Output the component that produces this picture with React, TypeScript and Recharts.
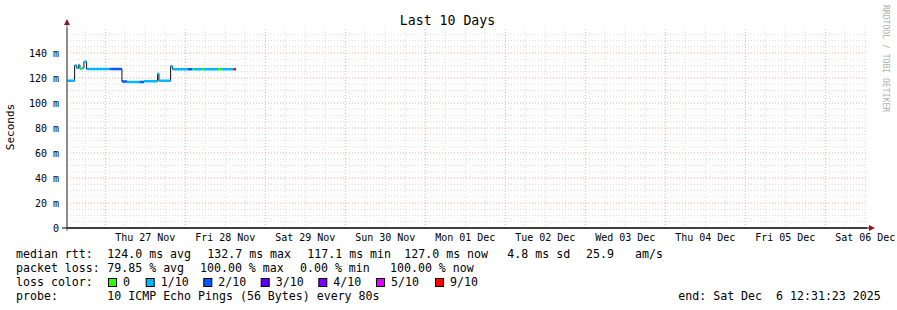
import { LineChart, Line, XAxis, YAxis, ReferenceLine } from "recharts";

// hours since Wed 26 Nov 00:00, window ends Sat 06 Dec 12:31
const windowStart = 12.52;
const windowEnd = 252.52;

// median rtt steps (ms), each lasts until the next start
const segStart = [12.5, 14.8, 15.4, 16.0, 16.4, 17.0, 17.6, 18.4, 25.4, 29.0, 30.5, 34.4, 35.6, 39.7, 40.1, 43.6, 44.2, 48.8, 50.0, 50.3, 50.8, 53.0, 53.6, 57.8, 59.0, 62.5];
const dataEnd = 63.2;
const medianRtt = [117.8, 130, 128, 130.5, 127.5, 128, 133, 127.2, 127.2, 117.2, 116.8, 116.8, 117.4, 123.5, 117.8, 129.5, 127, 127, 127, 127, 127, 127, 127, 127, 127, 127];
const lossTenths = [1, 1, 1, 1, 0, 1, 1, 1, 2, 2, 1, 2, 1, 1, 1, 1, 1, 2, 1, 0, 1, 0, 1, 0, 1, 9];

const lossClasses = [0, 1, 2, 3, 4, 5, 9];
const lossColors: Record<number, string> = {
  0: "#26ff00",
  1: "#00b8ff",
  2: "#0059ff",
  3: "#5e00ff",
  4: "#7e00ff",
  5: "#dd00ff",
  9: "#ff0000",
};
const lossLabels = ["0", "1/10", "2/10", "3/10", "4/10", "5/10", "9/10"];

const dayTicks = [36, 60, 84, 108, 132, 156, 180, 204, 228, 252];
const dayLabels = ["Thu 27 Nov", "Fri 28 Nov", "Sat 29 Nov", "Sun 30 Nov", "Mon 01 Dec", "Tue 02 Dec", "Wed 03 Dec", "Thu 04 Dec", "Fri 05 Dec", "Sat 06 Dec"];
const yTicks = [0, 20, 40, 60, 80, 100, 120, 140];

const statsRtt = [
  ["median rtt:", 16],
  ["124.0 ms avg", 107.3],
  ["132.7 ms max", 207.3],
  ["117.1 ms min", 307.3],
  ["127.0 ms now", 404.3],
  ["4.8 ms sd", 507.3],
  ["25.9", 586],
  ["am/s", 635],
] as const;
const statsLoss = [
  ["packet loss:", 16],
  ["79.85 % avg", 107.3],
  ["100.00 % max", 200],
  ["0.00 % min", 300],
  ["100.00 % now", 390],
] as const;
const swatchX = [108, 145.7, 203.3, 260.7, 318.3, 376, 435];

// each step gets its own coloured piece; the thin dark line joins them
const rows: Record<string, number>[] = [];
segStart.forEach((s, i) => {
  const e = i + 1 < segStart.length ? segStart[i + 1] : dataEnd;
  const v = medianRtt[i];
  const k = "l" + lossTenths[i];
  rows.push({ h: s, med: v, [k]: v });
  rows.push({ h: e, med: v, [k]: v });
  rows.push({ h: e, med: v });
});

const minorX: number[] = [];
for (let h = 18; h < windowEnd; h += 6) minorX.push(h);
const minorY: number[] = [];
for (let v = 5; v < 160; v += 5) minorY.push(v);

const mono = "DejaVu Sans Mono";

export default function App() {
  return (
    <div style={{ position: "relative", width: 897, height: 310, background: "#fff" }}>
      <style>{"body{margin:0}"}</style>
      <LineChart width={897} height={310} data={rows} margin={{ top: 28, right: 30, left: 0, bottom: 0 }}>
        {minorY.map((v) => (
          <ReferenceLine
            key={"y" + v}
            y={v}
            stroke={v % 20 === 0 ? "#f4a8a8" : "#dcdcdc"}
            strokeDasharray="1 2"
          />
        ))}
        {minorX.map((h) => (
          <ReferenceLine
            key={"x" + h}
            x={h}
            stroke={h % 24 === 0 ? "#f4a8a8" : "#dcdcdc"}
            strokeDasharray="1 2"
          />
        ))}
        <XAxis
          dataKey="h"
          type="number"
          domain={[windowStart, windowEnd]}
          allowDataOverflow
          ticks={dayTicks}
          interval={0}
          height={82}
          tickLine={false}
          tickSize={6}
          tickMargin={0}
          axisLine={{ stroke: "#000" }}
          tick={{ fontFamily: mono, fontSize: 10, fill: "#000" }}
          tickFormatter={(v) => dayLabels[dayTicks.indexOf(v)] ?? ""}
        />
        <YAxis
          type="number"
          domain={[0, 160]}
          allowDataOverflow
          ticks={yTicks}
          interval={0}
          width={67}
          tickLine={false}
          tickSize={6}
          tickMargin={2}
          axisLine={{ stroke: "#666" }}
          tick={{ fontFamily: mono, fontSize: 10, fill: "#000" }}
          tickFormatter={(v) => (v === 0 ? "0" : `${v} m`)}
        />
        <Line dataKey="med" stroke="#111" strokeWidth={1} dot={false} isAnimationActive={false} />
        {lossClasses.map((c) => (
          <Line
            key={c}
            dataKey={"l" + c}
            stroke={lossColors[c]}
            strokeWidth={2.5}
            dot={false}
            isAnimationActive={false}
          />
        ))}
      </LineChart>
      <svg width={897} height={310} style={{ position: "absolute", left: 0, top: 0, pointerEvents: "none" }}>
        <text x={447.5} y={25} textAnchor="middle" fontFamily={mono} fontSize={13.2} fill="#000">
          Last 10 Days
        </text>
        <text x={14} y={127} transform="rotate(-90 14 127)" textAnchor="middle" fontFamily={mono} fontSize={11} fill="#000">
          Seconds
        </text>
        <text x={883} y={5} transform="rotate(90 883 5)" fontFamily={mono} fontSize={8.1} fill="#b0b0b0">
          RRDTOOL / TOBI OETIKER
        </text>
        <line x1={67} y1={24} x2={67} y2={231} stroke="#666" />
        <line x1={62} y1={228} x2={869} y2={228} stroke="#000" />
        <polygon points="64,25 70,25 67,19" fill="#8b1a1a" />
        <polygon points="869,225 869,231 875,228" fill="#8b1a1a" />
        <g fontFamily={mono} fontSize={11.6} fill="#000">
          {statsRtt.map(([t, x]) => (
            <text key={t} x={x} y={258} xmlSpace="preserve">{t}</text>
          ))}
          {statsLoss.map(([t, x]) => (
            <text key={t} x={x} y={272}>{t}</text>
          ))}
          <text x={16} y={286}>loss color:</text>
          {lossClasses.map((c, i) => (
            <g key={c}>
              <rect x={swatchX[i] + 0.5} y={278.5} width={8} height={8} fill={lossColors[c]} stroke="#000" />
              <text x={swatchX[i] + 15} y={286}>{lossLabels[i]}</text>
            </g>
          ))}
          <text x={16} y={300}>probe:</text>
          <text x={107.3} y={300}>10 ICMP Echo Pings (56 Bytes) every 80s</text>
          <text x={678.3} y={300} xmlSpace="preserve">end: Sat Dec  6 12:31:23 2025</text>
        </g>
      </svg>
    </div>
  );
}
